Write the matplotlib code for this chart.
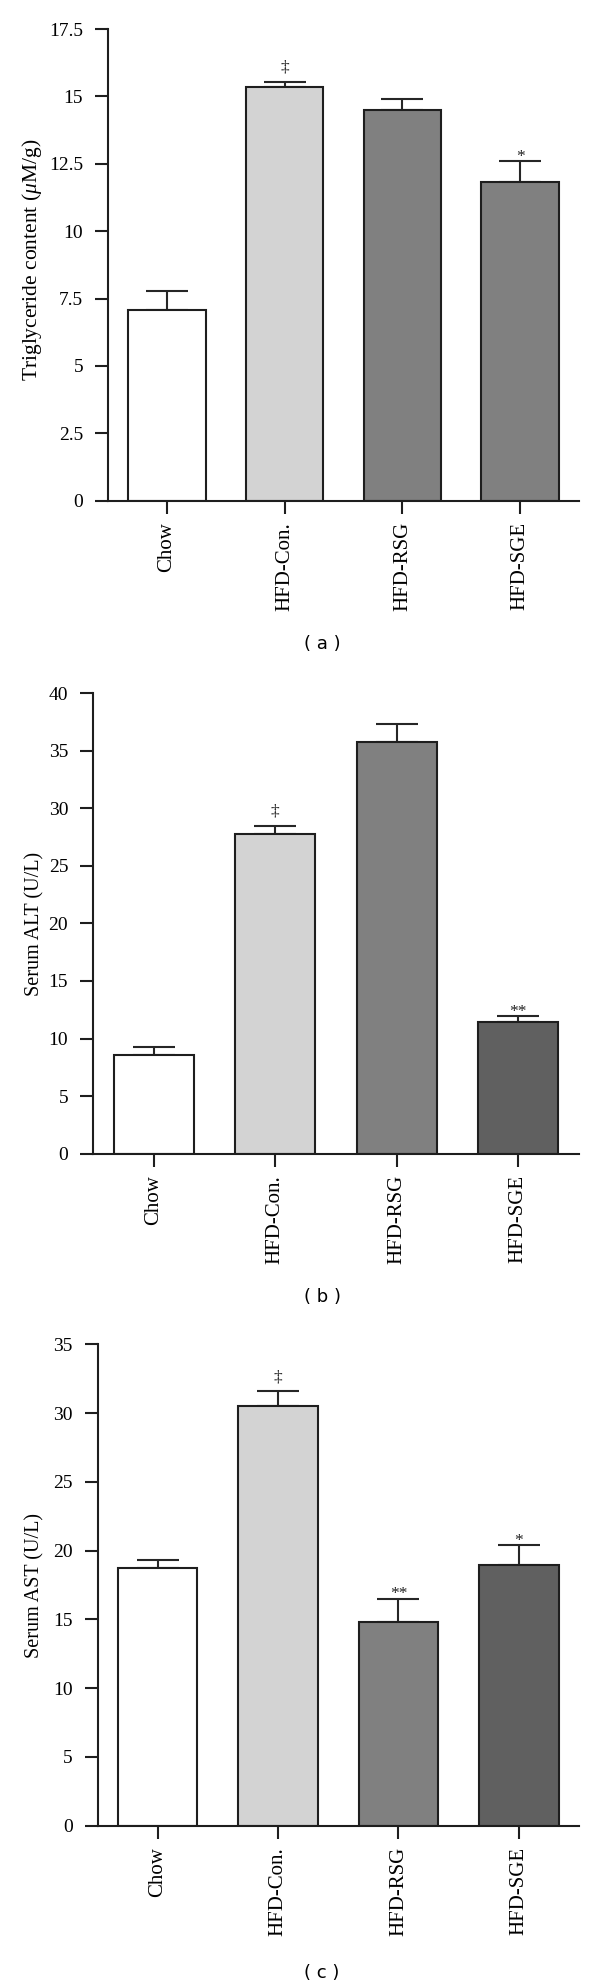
import numpy as np
import matplotlib
matplotlib.use("Agg")
import matplotlib.pyplot as plt
import matplotlib.transforms as mtransforms
from matplotlib.ticker import FormatStrFormatter

plt.rcParams["font.family"] = "Liberation Serif"
plt.rcParams["mathtext.fontset"] = "custom"
plt.rcParams["mathtext.rm"] = "Liberation Serif"
plt.rcParams["mathtext.it"] = "Liberation Serif:italic"

groups = ["Chow", "HFD-Con.", "HFD-RSG", "HFD-SGE"]

tg_mean = [7.08, 15.35, 14.49, 11.81]
tg_err = [0.69, 0.19, 0.41, 0.79]
tg_marks = ["", "\u2021", "", "*"]

alt_mean = [8.58, 27.8, 35.8, 11.4]
alt_err = [0.70, 0.70, 1.50, 0.52]
alt_marks = ["", "\u2021", "", "**"]

ast_mean = [18.74, 30.5, 14.8, 18.95]
ast_err = [0.55, 1.08, 1.70, 1.46]
ast_marks = ["", "\u2021", "**", "*"]

W, H = 600, 1988
EDGE = "#1e1e1e"
mark_off = {"\u2021": 7.3, "*": 0.3, "**": 0.3}

fig = plt.figure(figsize=(W / 100, H / 100), dpi=100)


def px_axes(left, top, right, bottom):
    return fig.add_axes([left / W, 1 - bottom / H, (right - left) / W, (bottom - top) / H])


def panel(ax, means, errs, marks, colors, ymax, ystep, ylabel, label_size, label_y, caption, cap_y):
    x = np.arange(len(groups))
    ax.bar(x, means, width=0.66, color=colors, edgecolor=EDGE, linewidth=1.5, zorder=2)
    ax.errorbar(x, means, yerr=[np.zeros(len(errs)), errs], fmt="none", ecolor="#262626",
                elinewidth=1.5, capsize=14.8, capthick=1.5, zorder=1)
    for xi, m, e, mk in zip(x, means, errs, marks):
        if mk:
            ax.annotate(mk, (xi, m + e), xytext=(0, mark_off[mk]), textcoords="offset points",
                        ha="center", va="baseline", fontsize=12.5, color="#222222")
    ax.set_xlim(-0.5, 3.5)
    ax.set_ylim(0, ymax)
    ax.set_yticks(np.arange(0, ymax + ystep / 2, ystep))
    ax.yaxis.set_major_formatter(FormatStrFormatter("%g"))
    ax.set_xticks(x)
    ax.set_xticklabels(groups, rotation=90, fontsize=15)
    for s in ("top", "right"):
        ax.spines[s].set_visible(False)
    for s in ("left", "bottom"):
        ax.spines[s].set_linewidth(1.5)
        ax.spines[s].set_color(EDGE)
    ax.tick_params(axis="y", length=9.4, width=1.5, pad=8.5, labelsize=14, color=EDGE)
    ax.tick_params(axis="x", length=9.4, width=1.5, pad=6, color=EDGE)
    ax.set_ylabel(ylabel, fontsize=label_size)
    ax.yaxis.set_label_coords(44 / W, label_y,
                              transform=mtransforms.blended_transform_factory(fig.transFigure, ax.transAxes))
    fig.text(322 / W, 1 - cap_y / H, caption, family="DejaVu Sans", fontsize=13,
             ha="center", va="center")


ax_a = px_axes(108, 29, 579, 500.7)
panel(ax_a, tg_mean, tg_err, tg_marks, ["white", "#d3d3d3", "#808080", "#808080"],
      17.5, 2.5, r"Triglyceride content ($\mu$M/g)", 15.5, 0.51, "( a )", 644)

ax_b = px_axes(93, 693.3, 579, 1153.6)
panel(ax_b, alt_mean, alt_err, alt_marks, ["white", "#d3d3d3", "#808080", "#606060"],
      40, 5, "Serum ALT (U/L)", 14.5, 0.5, "( b )", 1297)

ax_c = px_axes(97.5, 1344.3, 579, 1825.7)
panel(ax_c, ast_mean, ast_err, ast_marks, ["white", "#d3d3d3", "#808080", "#606060"],
      35, 5, "Serum AST (U/L)", 14.5, 0.5, "( c )", 1973)

fig.savefig("out.png", dpi=100)
